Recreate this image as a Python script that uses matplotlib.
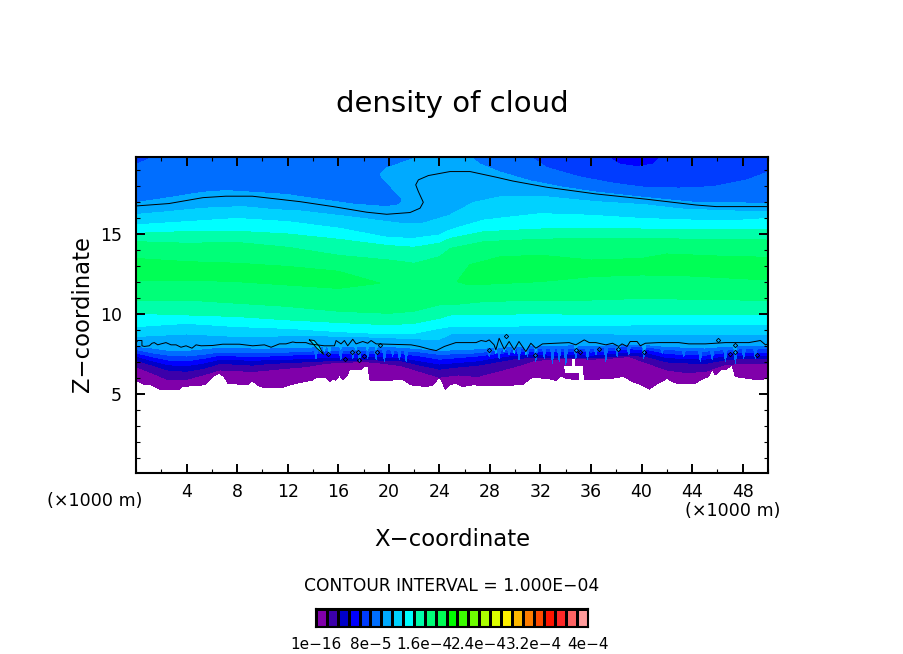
import matplotlib

matplotlib.use("Agg")
import matplotlib.pyplot as plt
import numpy as np
from matplotlib.colors import ListedColormap
from matplotlib.ticker import MultipleLocator

# colour steps, low to high (hex from the colour bar)
cell_colors = [
    "#8000aa", "#3c00aa", "#0000c8", "#0000ff", "#003cff", "#006eff", "#00aaff",
    "#00d2ff", "#00ffff", "#00ffaa", "#00ff78", "#00ff55", "#00ff00", "#3cff00",
    "#6eff00", "#aaff00", "#dcff00", "#fff000", "#ffb900", "#ff7d00", "#ff4b00",
    "#ff1400", "#ff2828", "#ff6464", "#ff9b9b",
]
bar_ticks = ["1e-16", "8e-5", "1.6e-4", "2.4e-4", "3.2e-4", "4e-4"]
x_ticks = [4, 8, 12, 16, 20, 24, 28, 32, 36, 40, 44, 48]

# lower edge of the cloud (x, z in km)
purple_low_x = [0, .5, 1.2, 1.85, 3.4, 3.6, 5.4, 6.07, 6.6, 7, 7.26, 8.84, 9.2, 9.6, 10, 11.6, 12.66,
                14, 14.25, 15.03, 15.3, 15.7, 15.8, 16.1, 16.35, 16.75, 16.88, 17.8, 18.07, 18.4, 18.46, 18.7,
                20.58, 21.1, 21.76, 22.95, 23.5, 24, 24.27, 24.45, 24.8, 25.3, 25.8, 26.6, 27.9, 30.6, 31.1,
                31.5, 32.95, 33.2, 33.6, 34, 34.9, 35.4, 37.7, 38.2, 38.6, 39.24, 40, 40.6, 41.1, 41.6, 42,
                42.4, 42.94, 44.26, 44.65, 45.3, 45.6, 45.84, 46.24, 46.63, 47.16, 47.4, 49.27, 50]
purple_low_z = [5.91, 5.66, 5.6, 5.33, 5.28, 5.49, 5.6, 6.12, 6.33, 6.08, 5.7, 5.6, 5.85, 5.6, 5.45, 5.45, 5.7,
                5.91, 6.08, 6.08, 5.81, 6.01, 5.87, 6.22, 5.91, 6.22, 6.53, 6.53, 6.74, 6.74, 5.95, 5.85,
                5.91, 5.95, 5.6, 5.49, 5.6, 6.08, 5.7, 5.33, 5.6, 5.7, 5.49, 5.6, 5.56, 5.6, 5.95,
                6.08, 5.95, 5.87, 6.16, 6.01, 5.91, 5.91, 6.01, 6.08, 6.12, 5.81, 5.6, 5.33, 5.6, 5.81, 6.01,
                5.81, 5.66, 5.7, 5.91, 6.12, 6.58, 6.22, 6.53, 6.53, 6.85, 6.12, 5.91, 6.01]
hole_x = [33.9, 34.55, 34.55, 34.7, 34.7, 35.3, 35.4, 35.1, 35.05, 34]
hole_z = [6.74, 6.74, 7.26, 7.26, 6.74, 6.74, 5.9, 5.9, 6.4, 6.4]

low_x = [0, 1.3, 2.6, 4, 5.3, 6.6, 8, 9.2, 10.5, 12, 13.5, 15, 16.5, 18, 19.5, 21, 22.5, 24, 25.5, 27,
         28.5, 30, 31.5, 33, 34.5, 36, 37.5, 39, 40.5, 42, 43.5, 45, 46.5, 48, 50]
indigo_low = [6.74, 6.33, 5.91, 5.95, 6.22, 6.53, 6.49, 6.43, 6.53, 6.64, 6.74, 6.95, 7.0, 7.06, 6.95, 6.8, 6.43, 6.08,
              6.22, 6.12, 6.43, 6.74, 7.12, 7.2, 7.26, 7.2, 7.26, 7.37, 6.95, 6.53, 6.37, 6.43, 6.85, 6.95, 6.95]
navy_low = [7.14, 6.83, 6.51, 6.45, 6.62, 6.93, 6.89, 6.83, 6.93, 6.99, 7.04, 7.10, 7.10, 7.16, 7.15, 7.10, 6.83, 6.58,
            6.72, 6.82, 7.03, 7.24, 7.32, 7.30, 7.31, 7.30, 7.36, 7.47, 7.35, 7.03, 6.97, 6.93, 7.15, 7.25, 7.25]
blue_low = [7.4, 7.1, 6.85, 6.8, 6.95, 7.2, 7.2, 7.1, 7.2, 7.2, 7.25, 7.3, 7.3, 7.35, 7.35, 7.3, 7.1, 6.9,
            7.0, 7.1, 7.3, 7.45, 7.5, 7.45, 7.5, 7.45, 7.55, 7.65, 7.6, 7.3, 7.25, 7.2, 7.4, 7.45, 7.45]
blue2_low = [7.6, 7.35, 7.15, 7.1, 7.25, 7.45, 7.4, 7.35, 7.4, 7.45, 7.5, 7.55, 7.55, 7.55, 7.6, 7.55, 7.4, 7.2,
             7.3, 7.4, 7.55, 7.65, 7.7, 7.65, 7.7, 7.65, 7.75, 7.85, 7.8, 7.55, 7.5, 7.45, 7.6, 7.65, 7.65]
blue3_low = [7.8, 7.6, 7.45, 7.4, 7.5, 7.65, 7.65, 7.6, 7.6, 7.65, 7.7, 7.75, 7.75, 7.75, 7.8, 7.75, 7.65, 7.5,
             7.55, 7.6, 7.75, 7.85, 7.9, 7.85, 7.9, 7.85, 7.95, 8.0, 7.95, 7.8, 7.75, 7.7, 7.8, 7.85, 7.85]
azure_low = [8.0, 7.9, 7.75, 7.75, 7.85, 7.95, 7.95, 7.9, 7.9, 7.95, 7.95, 8.0, 8.0, 8.0, 8.0, 7.95, 7.85, 7.75,
             7.8, 7.85, 7.95, 8.0, 8.05, 8.05, 8.1, 8.05, 8.1, 8.15, 8.1, 8.0, 7.95, 7.9, 8.0, 8.05, 8.05]

# narrow fingers hanging from the bands in the noisy stretches (x, tip z)
blue3_finger_x = [14.24, 15.3, 16.2, 17.15, 17.67, 18.33, 19, 19.65, 20.3, 20.84, 21.37,
                  27.94, 28.73, 29.52, 30.3, 30.97, 31.63, 32.3, 32.95, 33.48, 34, 34.8, 35.72, 36.38, 37.17,
                  38.06, 38.98, 40.17, 41.62, 43.33, 44.65, 45.58, 46.63, 47.42, 48.08, 49]
blue3_finger_z = [7.26, 7.47, 7.16, 7.26, 7.06, 7.26, 7.16, 7.06, 7.37, 7.16, 7.06,
                  7.37, 7.26, 7.47, 7.16, 7.37, 7.06, 7.26, 6.95, 7.06, 6.85, 7.26, 7.16, 7.47, 7.06,
                  7.37, 7.47, 7.26, 7.58, 7.37, 7.06, 7.16, 7.06, 6.95, 7.26, 7.26]
azure_finger_x = [14.9, 15.3, 16.2, 17.4, 18.3, 19, 28.47, 29.13, 29.92, 30.84, 31.63, 34.8, 38.2, 40.2, 47.4]
azure_finger_z = [7.7, 7.6, 7.8, 7.8, 7.75, 7.8, 7.55, 7.65, 7.55, 7.5, 7.7, 7.7, 7.7, 7.6, 7.5]

# upper edges that do not span the whole width
blue2_top_x = [0, 37, 38.3, 39.6, 40.9, 41.7, 50]
blue2_top_z = [20, 20, 19.39, 19.24, 19.39, 20, 20]
blue3_top_x = [0, 1.7, 30.9, 32.5, 35.1, 37.8, 40.4, 43, 45.7, 48.3, 50]
blue3_top_z = [19.35, 20, 20, 19.18, 18.6, 18.2, 17.93, 17.9, 17.99, 18.4, 18.9]
azure_top_x = [0, 2.6, 5.3, 7.1, 9.2, 11.9, 14.5, 17.2, 19.8, 20.8, 21.1, 19.3, 19.8, 22, 23.5,
               26.2, 27.2, 28.8, 31.2, 33.8, 36.4, 40.4, 44.3, 50]
azure_top_z = [16.99, 17.3, 17.64, 17.74, 17.64, 17.5, 17.2, 16.9, 16.74, 16.85, 17.16, 18.72, 19.14, 19.76, 20,
               20, 19.4, 18.9, 18.35, 17.95, 17.65, 17.3, 17.0, 16.95]
sky_top_x = [0, 2.6, 5.3, 8.4, 11, 13, 17, 20.9, 22.7, 24.8, 26.7, 28.8, 30.4, 32.5, 36.4, 40.4, 43, 46, 50]
sky_top_z = [16.25, 16.43, 16.64, 16.74, 16.55, 16.47, 16.1, 15.7, 15.7, 16.2, 17.0, 17.35, 17.4, 17.35, 17.05,
             16.85, 16.6, 16.5, 16.4]

mid_x = [0, 4, 8, 12, 16, 20, 22, 24, 24.9, 27.5, 32, 36, 40, 44, 48, 50]
sky_low = [8.62, 8.78, 8.62, 8.66, 8.65, 8.55, 8.47, 8.45, 8.78, 8.83, 8.83, 8.8, 8.75, 8.75, 8.75, 8.75]
cyan_low = [9.24, 9.44, 9.24, 9.13, 8.93, 8.78, 8.82, 9.13, 9.24, 9.24, 9.3, 9.3, 9.35, 9.35, 9.35, 9.35]
cyan_top = [15.6, 15.8, 16.0, 15.8, 15.4, 14.8, 14.76, 14.97, 15.3, 15.9, 16.3, 16.2, 16.0, 15.9, 15.9, 16.0]
spring1_low = [10.07, 9.97, 9.87, 9.66, 9.5, 9.35, 9.45, 9.76, 9.97, 9.97, 10.07, 9.97, 9.97, 9.97, 9.97, 9.97]
spring1_top = [15.07, 15.18, 15.2, 15.03, 14.7, 14.3, 14.2, 14.45, 14.76, 15.17, 15.34, 15.38, 15.34, 15.28, 15.28, 15.28]
spring2_low = [10.9, 10.9, 10.7, 10.5, 10.2, 10.07, 10.2, 10.6, 10.6, 10.8, 10.9, 10.9, 11, 10.95, 10.9, 10.9]
spring2_top = [14.55, 14.45, 14.5, 14.2, 13.7, 13.4, 13.2, 13.6, 14.13, 14.55, 14.7, 14.76, 14.76, 14.7, 14.68, 14.65]

# the two bright tongues around z = 12.5
core_left_x = [0, 4, 8, 12, 16, 19.3, 16, 12, 8, 4, 0]
core_left_z = [13.5, 13.3, 13.2, 13.0, 12.7, 11.95, 11.63, 11.84, 12.05, 12.15, 12.15]
core_right_x = [25.4, 26.4, 28.8, 32, 36, 40, 42, 46, 50, 50, 44, 40, 36, 32, 26.4]
core_right_z = [12.05, 13.1, 13.6, 13.7, 13.4, 13.5, 13.78, 13.65, 13.57, 12.15, 12.4, 12.47, 12.36, 12.05, 11.84]

# black contour lines
upper_line_x = [0, 2.6, 5.3, 7.1, 9.2, 12.97, 15.6, 18.25, 19.83, 21.68, 22.47, 22.73, 22.34, 22.13, 22.34, 23.13,
                24.84, 26.43, 28.54, 29.8, 32.5, 36.4, 40.4, 44.3, 45.9, 50]
upper_line_z = [16.78, 16.93, 17.3, 17.39, 17.39, 17.05, 16.74, 16.39, 16.26, 16.37, 16.64, 17.01, 17.68, 18.1, 18.41,
                18.68, 18.93, 18.93, 18.57, 18.34, 17.95, 17.53, 17.2, 16.84, 16.74, 16.74]
lower_line_x = [0, .13, .47, .47, .66, 1.05, 1.27, 1.45, 1.72, 1.98, 2.37, 2.77, 3.17, 3.56, 3.96, 4.43, 4.75,
                5.15, 6.07, 6.86, 8.18, 9.23, 10.16, 10.69, 11.35, 11.87, 12.4, 12.66, 13.45, 13.72, 14.9, 15.7,
                15.83, 16.22, 16.49, 16.75, 17.15, 17.41, 17.94, 18.33, 18.6, 19, 21.76, 22.42, 23.2, 23.75, 24.4,
                25.3, 26.9, 27.3, 27.7, 27.94, 28.33, 28.47, 28.73, 29.13, 29.52, 29.92, 30.3, 30.84, 31.24, 31.63,
                32.16, 33.2, 34.27, 34.8, 35.46, 35.86, 36.38, 37.17, 37.7, 38.19, 38.45, 38.85, 39.1, 39.64, 39.9,
                40.3, 41.35, 42.94, 43.73, 45.05, 46.63, 47.69, 48.48, 49.4, 49.8, 50]
lower_line_z = [8.2, 8.37, 8.37, 8.04, 8.0, 8.04, 8.2, 8.24, 8.1, 8.16, 8.24, 8.1, 8.1, 7.95, 8.04, 7.89, 8.1,
                8.04, 8.06, 8.14, 8.14, 8.04, 8.1, 7.95, 8.16, 8.16, 8.28, 8.24, 8.24, 8.16, 8.04, 8.04,
                8.37, 8.16, 8.37, 8.04, 8.45, 8.16, 8.31, 8.2, 8.37, 8.16, 8.1, 8.0, 7.83, 7.74, 8.0,
                8.24, 8.24, 8.37, 8.31, 8.41, 8.1, 7.79, 8.51, 7.83, 8.31, 7.79, 8.31, 7.68, 8.2, 7.89,
                8.16, 8.2, 8.24, 8.1, 8.41, 8.24, 8.24, 8.1, 8.2, 8.0, 8.16, 8.0, 8.31, 8.31, 8.04,
                8.2, 8.24, 8.24, 8.16, 8.16, 8.24, 8.24, 8.24, 8.37, 8.1, 8.16]
loop_x = [13.72, 14.1, 14.5, 14.85, 14.3, 13.85, 13.72]
loop_z = [8.41, 8.37, 8.0, 7.5, 7.89, 8.3, 8.41]
spot_x = [15.2, 16.5, 17.6, 18.07, 19.1, 19.3, 17.1, 17.67, 27.9, 29.3, 31.55, 34.8, 35.1, 36.65, 38.1, 40.2, 47,
          47.4, 47.4, 46.05, 49.1]
spot_z = [7.55, 7.2, 7.65, 7.4, 7.68, 8.1, 7.68, 7.16, 7.8, 8.68, 7.47, 7.8, 7.64, 7.83, 7.83, 7.64, 7.51,
          8.1, 7.64, 8.41, 7.47]


def fill_band(ax, x_low, z_low, x_top, z_top, color):
    # one closed polygon: lower edge left to right, upper edge back again
    x = list(x_low) + list(x_top)[::-1]
    z = list(z_low) + list(z_top)[::-1]
    ax.fill(x, z, color=color, lw=0, antialiased=False)


def fill_fingers(ax, finger_x, finger_z, base_z, color, half_width=0.16):
    # base of each finger sits inside the band it hangs from
    for x, tip in zip(finger_x, finger_z):
        base = np.interp(x, low_x, base_z) + 0.1
        ax.fill([x - half_width, x, x + half_width], [base, tip, base], color=color, lw=0, antialiased=False)


def main() -> None:
    fig = plt.figure(figsize=(9.04, 6.54), dpi=100)
    ax = fig.add_axes([136 / 904, (654 - 473) / 654, 632 / 904, 316 / 654])

    flat_x = [0, 50]
    flat_z = [20, 20]
    fill_band(ax, purple_low_x, purple_low_z, flat_x, flat_z, cell_colors[0])
    ax.fill(hole_x, hole_z, color="white", lw=0, antialiased=False)
    fill_band(ax, low_x, indigo_low, flat_x, flat_z, cell_colors[1])
    fill_band(ax, low_x, navy_low, flat_x, flat_z, cell_colors[2])
    fill_band(ax, low_x, blue_low, flat_x, flat_z, cell_colors[3])
    fill_band(ax, low_x, blue2_low, blue2_top_x, blue2_top_z, cell_colors[4])
    fill_band(ax, low_x, blue3_low, blue3_top_x, blue3_top_z, cell_colors[5])
    fill_fingers(ax, blue3_finger_x, blue3_finger_z, blue3_low, cell_colors[5])
    fill_band(ax, low_x, azure_low, azure_top_x, azure_top_z, cell_colors[6])
    fill_fingers(ax, azure_finger_x, azure_finger_z, azure_low, cell_colors[6])
    fill_band(ax, mid_x, sky_low, sky_top_x, sky_top_z, cell_colors[7])
    fill_band(ax, mid_x, cyan_low, mid_x, cyan_top, cell_colors[8])
    fill_band(ax, mid_x, spring1_low, mid_x, spring1_top, cell_colors[9])
    fill_band(ax, mid_x, spring2_low, mid_x, spring2_top, cell_colors[10])
    ax.fill(core_left_x, core_left_z, color=cell_colors[11], lw=0, antialiased=False)
    ax.fill(core_right_x, core_right_z, color=cell_colors[11], lw=0, antialiased=False)
    ax.fill(loop_x, loop_z, color=cell_colors[7], lw=0, antialiased=False)

    ax.plot(upper_line_x, upper_line_z, color="black", lw=0.7)
    ax.plot(lower_line_x, lower_line_z, color="black", lw=0.7)
    ax.plot(loop_x, loop_z, color="black", lw=0.7)
    ax.plot(spot_x, spot_z, ls="none", marker="D", ms=2.2, mfc="none", mec="black", mew=0.6)

    ax.set_xlim(0, 50)
    ax.set_ylim(0.09, 19.84)
    ax.set_xticks(x_ticks)
    ax.xaxis.set_minor_locator(MultipleLocator(2))
    ax.yaxis.set_major_locator(MultipleLocator(5))
    ax.yaxis.set_minor_locator(MultipleLocator(1))
    ax.tick_params(which="major", direction="in", top=True, right=True, length=6.5, width=1.4,
                   labelsize=12.5)
    ax.tick_params(which="minor", direction="in", top=True, right=True, length=3.2, width=0.8)
    ax.tick_params(axis="x", which="major", pad=7)
    ax.tick_params(axis="y", which="major", pad=10)
    for spine in ax.spines.values():
        spine.set_linewidth(1.5)

    fig.text(452 / 904, 1 - 104 / 654, "density of cloud", ha="center", va="center", fontsize=21)
    fig.text(452 / 904, 1 - 539 / 654, "X\u2212coordinate", ha="center", va="center", fontsize=16.4)
    fig.text(83 / 904, 1 - 314 / 654, "Z\u2212coordinate", ha="center", va="center", rotation=90, fontsize=16.4)
    fig.text(95 / 904, 1 - 501 / 654, "(\u00d71000 m)", ha="center", va="center", fontsize=12.6)
    fig.text(733 / 904, 1 - 511 / 654, "(\u00d71000 m)", ha="center", va="center", fontsize=12.6)
    fig.text(452 / 904, 1 - 586 / 654, "CONTOUR INTERVAL = 1.000E\u221204", ha="center", va="center", fontsize=12.3)

    # colour bar
    cax = fig.add_axes([316 / 904, (654 - 627) / 654, 272 / 904, 18 / 654])
    cmap = ListedColormap(cell_colors)
    cax.pcolormesh(np.arange(len(cell_colors) + 1), [0, 1], np.arange(len(cell_colors)).reshape(1, -1),
                   cmap=cmap, edgecolors="black", linewidth=0.8)
    cax.set_yticks([])
    cax.set_xticks(np.arange(0, len(cell_colors) + 1, 5))
    cax.set_xticklabels([t.replace("-", "\u2212") for t in bar_ticks], fontsize=11)
    cax.tick_params(axis="x", length=0, pad=7)
    for spine in cax.spines.values():
        spine.set_linewidth(1.5)

    fig.savefig("out.png", dpi=100)


if __name__ == "__main__":
    main()
